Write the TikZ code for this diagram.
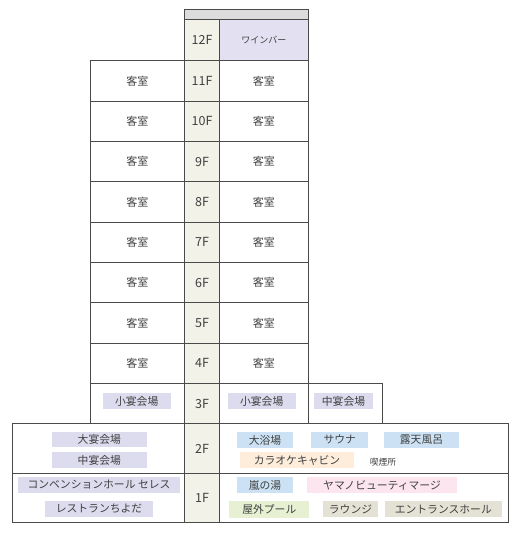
\documentclass[tikz,border=0pt]{standalone}
\usepackage{fontspec}
\setmainfont{Noto Sans CJK JP}
\usepackage{xcolor}
\usetikzlibrary{positioning}
\definecolor{hotelline}{HTML}{4A4A4A}
\definecolor{hoteltext}{HTML}{404040}
\definecolor{floorbg}{HTML}{F3F2E9}
\definecolor{roofgray}{HTML}{DCDCDC}
\definecolor{barlav}{HTML}{E2E0F1}
\definecolor{taglav}{HTML}{DDDBEE}
\definecolor{tagblue}{HTML}{CCE2F4}
\definecolor{tagpeach}{HTML}{FDEDDA}
\definecolor{tagpink}{HTML}{FCE5EF}
\definecolor{taggreen}{HTML}{E7F0D2}
\definecolor{tagbeige}{HTML}{E3E2D5}

\begin{document}
\begin{tikzpicture}[x=1pt, y=-1pt,
    cell/.style={draw=hotelline, line width=0.8pt, inner sep=0pt, anchor=north west, text=hoteltext, font=\fontsize{11}{13}\selectfont},
    room/.style={cell, minimum width=94pt, minimum height=40.33pt},
    floorcell/.style={cell, fill=floorbg, minimum width=35.3pt, minimum height=40.33pt, font=\fontsize{12.5}{14}\selectfont},
    roomr/.style={cell, minimum width=88.4pt, minimum height=40.33pt},
    tag/.style={inner sep=0pt, minimum height=16pt, text=hoteltext, font=\fontsize{10.8}{12}\selectfont}]
  \useasboundingbox (0,0) rectangle (515,534);

  % roof and 12F
  \node[cell, fill=roofgray, minimum width=123.7pt, minimum height=10pt] (roof) at (184,9) {};
  \node[floorcell, minimum height=41.3pt] (fl12) at (184,19) {12F};
  \node[roomr, fill=barlav, minimum height=41.3pt, font=\fontsize{9}{11}\selectfont] (bar12) at (219.3,19) {ワインバー};

  % guest room floors
  \foreach \f [count=\i from 0] in {11,10,...,4} {
    \pgfmathsetmacro\ytop{60.33+40.33*\i}
    \node[room] (left\f) at (90,\ytop) {客室};
    \node[floorcell] (fl\f) at (184,\ytop) {\f F};
    \node[roomr] (right\f) at (219.3,\ytop) {客室};
  }

  % 3F
  \node[room] (left3) at (90,383) {};
  \node[floorcell] (fl3) at (184,383) {3F};
  \node[roomr] (right3) at (219.3,383) {};
  \node[cell, minimum width=74pt, minimum height=40.33pt] (extra3) at (307.7,383) {};
  \node[tag, fill=taglav, minimum width=68pt, minimum height=16.6pt] (sho3l) at (136.7,401) {小宴会場};
  \node[tag, fill=taglav, minimum width=68pt, minimum height=16.6pt] (sho3r) at (261.7,401) {小宴会場};
  \node[tag, fill=taglav, minimum width=58.4pt, minimum height=16.6pt] (chu3) at (343.5,401) {中宴会場};

  % 2F
  \node[cell, minimum width=496pt, minimum height=50pt] (row2) at (12,423.3) {};
  \node[floorcell, minimum height=50pt] (fl2) at (184,423.3) {2F};
  \node[tag, fill=taglav, minimum width=94.7pt, minimum height=15pt] (dai2) at (99.3,439.2) {大宴会場};
  \node[tag, fill=taglav, minimum width=94.7pt] (chu2) at (99.3,460.3) {中宴会場};
  \node[tag, fill=tagblue, minimum width=56.6pt, minimum height=15.4pt] (yoku2) at (265,440) {大浴場};
  \node[tag, fill=tagblue, minimum width=57.3pt] (sauna2) at (339.7,439.7) {サウナ};
  \node[tag, fill=tagblue, minimum width=75.3pt] (roten2) at (421.5,439.7) {露天風呂};
  \node[tag, fill=tagpeach, minimum width=114pt] (kara2) at (297,460.3) {カラオケキャビン};
  \node[tag, font=\fontsize{8.8}{10}\selectfont] (smoke2) at (383,462) {喫煙所};

  % 1F
  \node[cell, minimum width=496pt, minimum height=48.4pt] (row1) at (12,473.3) {};
  \node[floorcell, minimum height=48.4pt] (fl1) at (184,473.3) {1F};
  \node[tag, fill=taglav, minimum width=162pt] (conv1) at (99,485) {コンベンションホール セレス};
  \node[tag, fill=taglav, minimum width=108pt] (rest1) at (99,508.7) {レストランちよだ};
  \node[tag, fill=tagblue, minimum width=56.6pt] (arashi1) at (265,485.3) {嵐の湯};
  \node[tag, fill=tagpink, minimum width=150pt] (beauty1) at (382,485) {ヤマノビューティマージ};
  \node[tag, fill=taggreen, minimum width=80pt, minimum height=16.7pt] (pool1) at (269.3,509.3) {屋外プール};
  \node[tag, fill=tagbeige, minimum width=55.6pt] (lounge1) at (350.5,509) {ラウンジ};
  \node[tag, fill=tagbeige, minimum width=116.7pt] (hall1) at (443.3,509) {エントランスホール};
\end{tikzpicture}
\end{document}
